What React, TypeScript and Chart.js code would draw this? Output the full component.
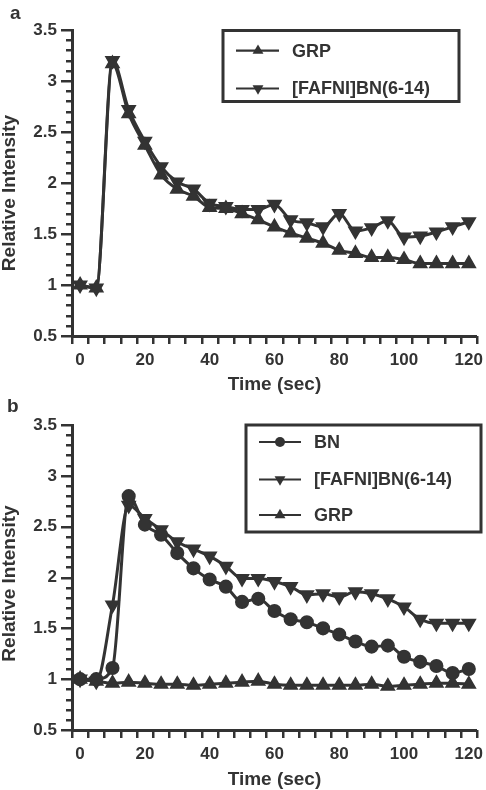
import React, { useEffect, useRef } from 'react';
import { Chart, registerables } from 'chart.js';

Chart.register(...registerables);

// ---------- data ----------
const TIME = [0, 5, 10, 15, 20, 25, 30, 35, 40, 45, 50, 55, 60, 65, 70, 75, 80, 85, 90, 95, 100, 105, 110, 115, 120];
const X_TICKS = [0, 20, 40, 60, 80, 100, 120];
const Y_TICKS = [0.5, 1, 1.5, 2, 2.5, 3, 3.5];

// panel a
const GRP_A = [1.0, 0.97, 3.17, 2.68, 2.37, 2.08, 1.94, 1.87, 1.76, 1.75, 1.70, 1.64, 1.57, 1.51, 1.46, 1.41, 1.34, 1.31, 1.27, 1.27, 1.25, 1.21, 1.21, 1.21, 1.21];
const FAFNI_A = [1.0, 0.97, 3.2, 2.72, 2.41, 2.16, 2.01, 1.94, 1.80, 1.77, 1.74, 1.74, 1.79, 1.64, 1.61, 1.57, 1.70, 1.53, 1.56, 1.63, 1.47, 1.48, 1.52, 1.57, 1.62];

// panel b
const BN_B = [1.0, 1.0, 1.11, 2.8, 2.52, 2.42, 2.24, 2.09, 1.98, 1.91, 1.76, 1.79, 1.67, 1.59, 1.56, 1.5, 1.44, 1.37, 1.32, 1.33, 1.22, 1.17, 1.13, 1.06, 1.1];
const FAFNI_B = [1.0, 0.98, 1.73, 2.71, 2.58, 2.47, 2.35, 2.28, 2.21, 2.11, 1.99, 1.99, 1.96, 1.91, 1.83, 1.84, 1.81, 1.86, 1.84, 1.79, 1.71, 1.59, 1.55, 1.55, 1.55];
const GRP_B = [1.0, 0.98, 0.96, 0.97, 0.96, 0.95, 0.95, 0.94, 0.95, 0.96, 0.97, 0.98, 0.95, 0.94, 0.94, 0.94, 0.94, 0.94, 0.95, 0.93, 0.94, 0.95, 0.96, 0.96, 0.95];

const LABEL_GRP = 'GRP';
const LABEL_FAFNI = '[FAFNI]BN(6-14)';
const LABEL_BN = 'BN';
const X_TITLE = 'Time (sec)';
const Y_TITLE = 'Relative Intensity';

// ---------- style ----------
const INK = '#333333';
const FONT = "'Liberation Sans', Arial, Helvetica, sans-serif";
const W = 486;
const H = 395;

type Kind = 'up' | 'down' | 'circle';

function series(label: string, values: number[], kind: Kind) {
  return {
    label,
    kind,
    data: TIME.map((t, i) => ({ x: t, y: values[i] })),
    borderColor: INK,
    backgroundColor: INK,
    borderWidth: 3,
    pointStyle: kind === 'circle' ? 'circle' : 'triangle',
    rotation: kind === 'down' ? 180 : 0,
    pointRotation: kind === 'down' ? 180 : 0,
    pointRadius: kind === 'circle' ? 6.3 : 7.6,
    pointBorderWidth: 1.5,
    pointBackgroundColor: INK,
    pointBorderColor: INK,
    cubicInterpolationMode: 'monotone',
    fill: false,
    clip: false,
  };
}

function drawMarker(ctx: CanvasRenderingContext2D, kind: Kind, x: number, y: number, r: number) {
  ctx.beginPath();
  if (kind === 'circle') {
    ctx.arc(x, y, r, 0, Math.PI * 2);
  } else {
    const dir = kind === 'down' ? -1 : 1;
    for (let k = 0; k < 3; k++) {
      const a = (k * 2 * Math.PI) / 3;
      const px = x + Math.sin(a) * r;
      const py = y - dir * Math.cos(a) * r;
      if (k === 0) ctx.moveTo(px, py);
      else ctx.lineTo(px, py);
    }
    ctx.closePath();
  }
  ctx.fill();
}

// custom tick marks (minor/major on y, offset marks on x)
const tickMarks = {
  id: 'tickMarks',
  afterDraw(chart: any) {
    const ctx = chart.ctx as CanvasRenderingContext2D;
    const xs = chart.scales.x;
    const ys = chart.scales.y;
    const area = chart.chartArea;
    ctx.save();
    ctx.strokeStyle = INK;
    ctx.lineWidth = 2.5;
    for (let k = 0; ; k++) {
      const v = ys.min + k * 0.1;
      if (v > ys.max + 1e-9) break;
      const p = Math.round(ys.getPixelForValue(v)) + 0.25;
      const major = Math.abs(v * 2 - Math.round(v * 2)) < 1e-6;
      const len = major ? 11 : 6;
      ctx.beginPath();
      ctx.moveTo(area.left - len, p);
      ctx.lineTo(area.left, p);
      ctx.stroke();
    }
    for (let k = 0; ; k++) {
      const v = xs.min + k * 5;
      if (v > xs.max + 1e-9) break;
      const p = Math.round(xs.getPixelForValue(v)) + 0.25;
      ctx.beginPath();
      ctx.moveTo(p, area.bottom);
      ctx.lineTo(p, area.bottom + 8);
      ctx.stroke();
    }
    ctx.restore();
  },
};

// rotated y-axis title (slightly below the axis centre, as in the original figure)
const yTitle = {
  id: 'yTitle',
  afterDraw(chart: any, _args: any, opts: any) {
    if (!opts || !opts.text) return;
    const ctx = chart.ctx as CanvasRenderingContext2D;
    const area = chart.chartArea;
    ctx.save();
    ctx.translate(opts.x, (area.top + area.bottom) / 2 + opts.shift);
    ctx.rotate(-Math.PI / 2);
    ctx.font = `bold ${opts.fontSize}px ${FONT}`;
    ctx.fillStyle = INK;
    ctx.textAlign = 'center';
    ctx.textBaseline = 'middle';
    ctx.fillText(opts.text, 0, 0);
    ctx.restore();
  },
};

// boxed legend with line + marker samples
const boxLegend = {
  id: 'boxLegend',
  afterDraw(chart: any, _args: any, opts: any) {
    if (!opts || !opts.box) return;
    const ctx = chart.ctx as CanvasRenderingContext2D;
    const [bx, by, bw, bh] = opts.box;
    ctx.save();
    ctx.fillStyle = '#ffffff';
    ctx.fillRect(bx, by, bw, bh);
    ctx.strokeStyle = INK;
    ctx.lineWidth = 3;
    ctx.strokeRect(bx, by, bw, bh);
    ctx.font = `bold ${opts.fontSize}px ${FONT}`;
    ctx.textBaseline = 'middle';
    ctx.textAlign = 'left';
    chart.data.datasets.forEach((ds: any, i: number) => {
      const ry = opts.rows[i];
      ctx.strokeStyle = INK;
      ctx.lineWidth = 2.2;
      ctx.beginPath();
      ctx.moveTo(opts.lineX[0], ry);
      ctx.lineTo(opts.lineX[1], ry);
      ctx.stroke();
      ctx.fillStyle = INK;
      drawMarker(ctx, ds.kind, opts.markX, ry, ds.kind === 'circle' ? 5 : 6.3);
      ctx.fillText(ds.label, opts.textX, ry + 1);
    });
    ctx.restore();
  },
};

function makeConfig(datasets: any[], plotTop: number, plotBottom: number, legend: any, titleShift: number) {
  return {
    type: 'line',
    data: { datasets },
    plugins: [tickMarks, boxLegend, yTitle],
    options: {
      animation: false,
      responsive: false,
      maintainAspectRatio: false,
      layout: { padding: { top: plotTop, right: 7, left: 0, bottom: 0 } },
      plugins: {
        legend: { display: false },
        tooltip: { enabled: false },
        boxLegend: legend,
        yTitle: { text: Y_TITLE, x: 10, shift: titleShift, fontSize: 19 },
      },
      scales: {
        x: {
          type: 'linear',
          min: -2.5,
          max: 122.5,
          afterBuildTicks: (s: any) => {
            s.ticks = X_TICKS.map((v) => ({ value: v }));
          },
          afterFit: (s: any) => {
            s.height = H - plotBottom;
            s.paddingLeft = 0;
            s.paddingRight = 0;
          },
          grid: { display: false, drawTicks: false },
          border: { display: true, color: INK, width: 3 },
          ticks: {
            color: INK,
            autoSkip: false,
            maxRotation: 0,
            padding: 14,
            font: { family: FONT, size: 17, weight: 'bold' },
            callback: (v: any) => String(v),
          },
          title: {
            display: true,
            text: X_TITLE,
            color: INK,
            padding: { top: 0, bottom: 0 },
            font: { family: FONT, size: 19, weight: 'bold', lineHeight: 1.05 },
          },
        },
        y: {
          type: 'linear',
          min: 0.5,
          max: 3.5,
          afterBuildTicks: (s: any) => {
            s.ticks = Y_TICKS.map((v) => ({ value: v }));
          },
          afterFit: (s: any) => {
            s.width = 72;
            s.paddingTop = 0;
            s.paddingBottom = 0;
          },
          grid: { display: false, drawTicks: false },
          border: { display: true, color: INK, width: 3 },
          ticks: {
            color: INK,
            autoSkip: false,
            padding: 15,
            font: { family: FONT, size: 17, weight: 'bold' },
            callback: (v: any) => String(v),
          },
          title: { display: false },
        },
      },
    },
  };
}

function Panel({ config, top }: { config: any; top: number }) {
  const ref = useRef<HTMLCanvasElement | null>(null);
  useEffect(() => {
    if (!ref.current) return;
    const chart = new Chart(ref.current, config);
    return () => chart.destroy();
  }, [config]);
  return (
    <canvas
      ref={ref}
      width={W}
      height={H}
      style={{ position: 'absolute', left: 0, top, width: W, height: H, display: 'block' }}
    />
  );
}

const CONFIG_A = makeConfig(
  [series(LABEL_GRP, GRP_A, 'up'), series(LABEL_FAFNI, FAFNI_A, 'down')],
  30,
  336,
  { box: [223, 30.5, 236, 71], rows: [50.7, 88.5], lineX: [236, 279], markX: 258, textX: 292, fontSize: 18 },
  10
);

const CONFIG_B = makeConfig(
  [series(LABEL_BN, BN_B, 'circle'), series(LABEL_FAFNI, FAFNI_B, 'down'), series(LABEL_GRP, GRP_B, 'up')],
  30,
  335,
  { box: [246, 30, 235, 107], rows: [47, 84.5, 120], lineX: [259, 301], markX: 280, textX: 314, fontSize: 18 },
  6
);

const panelLabel: React.CSSProperties = {
  position: 'absolute',
  fontFamily: FONT,
  fontWeight: 'bold',
  fontSize: 19,
  lineHeight: '19px',
  color: INK,
};

export default function App() {
  return (
    <div style={{ position: 'absolute', left: 0, top: 0, width: W, height: 2 * H, background: '#fff', overflow: 'hidden' }}>
      <Panel config={CONFIG_A} top={0} />
      <Panel config={CONFIG_B} top={H} />
      <div style={{ ...panelLabel, left: 10, top: 3 }}>a</div>
      <div style={{ ...panelLabel, left: 7, top: 396 }}>b</div>
    </div>
  );
}
